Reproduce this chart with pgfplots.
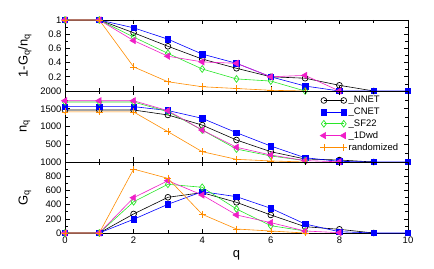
\documentclass[border=0pt]{standalone}
\usepackage{pgfplots}
\pgfplotsset{compat=1.18}
\usepackage{fontspec}
\setmainfont{Liberation Sans}
\definecolor{cblue}{RGB}{0,0,255}
\definecolor{cgreen}{RGB}{40,230,40}
\definecolor{cpink}{RGB}{240,30,200}
\definecolor{corange}{RGB}{255,140,0}
\pgfplotsset{
 panel/.style={scale only axis, width=343bp, height=71bp, xmin=0, xmax=10, clip=false,
  xtick={0,2,4,6,8,10}, minor xtick={1,3,5,7,9},
  axis line style={line width=0.8pt}, tick style={black, line width=0.6pt},
  major tick length=4.5bp, minor tick length=3bp,
  tick label style={font=\fontsize{9.5}{11}\selectfont},
  label style={font=\fontsize{13}{15}\selectfont},
  /pgf/number format/assume math mode=true, /pgf/number format/1000 sep={},
  ylabel style={at={(axis description cs:-0.117,0.5)}, anchor=center},
  legend image code/.code={\draw[mark repeat=2,mark phase=1] plot coordinates {(0cm,0cm) (0.35cm,0cm) (0.7cm,0cm)};},
 },
 nnet/.style={black, line width=0.6pt, mark=o, mark size=2.9pt, mark options={solid, line width=0.7pt}},
 cnet/.style={cblue, line width=0.6pt, mark=square*, mark size=2.8pt, mark options={solid}},
 sf/.style={cgreen, line width=0.6pt, mark=diamond, mark size=3.4pt, mark options={solid, line width=0.7pt}},
 dwd/.style={cpink, line width=0.6pt, mark=triangle*, mark size=3.6pt, mark options={solid, rotate=90}},
 rnd/.style={corange, line width=0.6pt, mark=+, mark size=3.5pt, mark options={solid, line width=0.6pt}},
}
\begin{document}
\begin{tikzpicture}
\useasboundingbox (0,0) rectangle (434bp,269bp);
% top panel
\begin{axis}[panel, at={(65bp,178bp)}, anchor=south west,
  ymin=0, ymax=1, ytick={0.2,0.4,0.6,0.8,1}, minor ytick={0.1,0.3,0.5,0.7,0.9},
  xticklabels={}, ylabel={1-G\textsubscript{q}/n\textsubscript{q}}]
\addplot[nnet] coordinates {(0,1)(1,1)(2,0.82)(3,0.63)(4,0.45)(5,0.32)(6,0.20)(7,0.18)(8,0.08)(9,0)};
\addplot[cnet] coordinates {(0,1)(1,1)(2,0.89)(3,0.73)(4,0.52)(5,0.39)(6,0.20)(7,0.07)(8,0)(9,0)(10,0)};
\addplot[sf] coordinates {(0,1)(1,1)(2,0.76)(3,0.53)(4,0.31)(5,0.17)(6,0.14)(7,0)};
\addplot[dwd] coordinates {(0,1)(1,1)(2,0.71)(3,0.49)(4,0.41)(5,0.39)(6,0.20)(7,0.22)(8,0)};
\addplot[rnd] coordinates {(0,1)(1,1)(2,0.34)(3,0.13)(4,0.06)(5,0.035)(6,0.01)(7,0)};
\end{axis}
% middle panel
\begin{axis}[panel, at={(65bp,107bp)}, anchor=south west,
  ymin=0, ymax=2000, ytick={500,1000,1500,2000}, minor ytick={250,750,1250,1750},
  xticklabels={}, ylabel={n\textsubscript{q}},
  legend style={at={(axis description cs:0.735,0.975)}, anchor=north west, draw=none, fill=none,
    font=\fontsize{9.5}{10}\selectfont, row sep=0.6pt, nodes={inner sep=1.5pt}},
  legend cell align=left]
\addplot[nnet] coordinates {(0,1465)(1,1465)(2,1465)(3,1325)(4,1040)(5,620)(6,290)(7,85)(8,56)(9,0)};
\addlegendentry{\_NNET}
\addplot[cnet] coordinates {(0,1560)(1,1560)(2,1560)(3,1450)(4,1230)(5,825)(6,450)(7,120)(8,18)(9,0)(10,0)};
\addlegendentry{\_CNET}
\addplot[sf] coordinates {(0,1690)(1,1690)(2,1690)(3,1420)(4,900)(5,365)(6,170)(7,40)};
\addlegendentry{\_SF22}
\addplot[dwd] coordinates {(0,1725)(1,1725)(2,1725)(3,1445)(4,900)(5,415)(6,197)(7,40)(8,5)};
\addlegendentry{\_1Dwd}
\addplot[rnd] coordinates {(0,1410)(1,1410)(2,1410)(3,855)(4,290)(5,75)(6,30)(7,0)};
\addlegendentry{randomized}
\end{axis}
% bottom panel
\begin{axis}[panel, at={(65bp,36bp)}, anchor=south west,
  ymin=0, ymax=1000, ytick={0,200,400,600,800,1000}, minor ytick={100,300,500,700,900},
  xlabel={q}, ylabel={G\textsubscript{q}},
  xlabel style={at={(axis description cs:0.5,-0.31)}, anchor=center}]
\addplot[nnet] coordinates {(0,0)(1,0)(2,268)(3,503)(4,568)(5,432)(6,254)(7,89)(8,52)(9,0)};
\addplot[cnet] coordinates {(0,0)(1,0)(2,193)(3,404)(4,582)(5,512)(6,348)(7,127)(8,18)(9,0)(10,0)};
\addplot[sf] coordinates {(0,0)(1,0)(2,440)(3,686)(4,644)(5,338)(6,103)(7,28)};
\addplot[dwd] coordinates {(0,0)(1,0)(2,497)(3,737)(4,535)(5,254)(6,146)(7,28)(8,5)};
\addplot[rnd] coordinates {(0,0)(1,0)(2,900)(3,770)(4,263)(5,56)(6,28)(7,0)};
\end{axis}
\end{tikzpicture}
\end{document}
